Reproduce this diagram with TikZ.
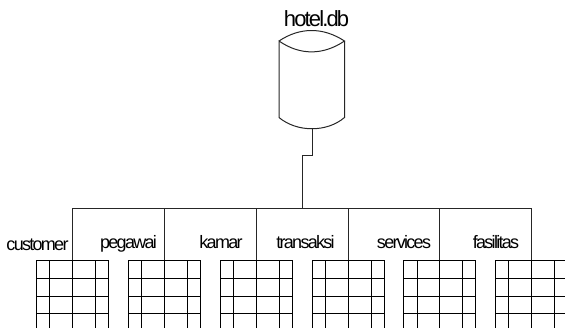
\documentclass[tikz,border=0pt]{standalone}
\usepackage{fontspec}
\setmainfont{Liberation Sans}
\newfontfamily\tightlarge[LetterSpace=-8.5]{Liberation Sans}
\newfontfamily\tightsmall[LetterSpace=-9.5]{Liberation Sans}
\tikzset{
  wire/.style={line width=1pt,black!85},
  gridline/.style={line width=1pt,black},
  tablelabel/.style={inner sep=0pt,font=\tightsmall\fontsize{18}{18}\selectfont,anchor=base},
  dblabel/.style={inner sep=0pt,font=\tightlarge\fontsize{22}{22}\selectfont,anchor=base}
}
\begin{document}
\begin{tikzpicture}[x=1pt,y=-1pt]
\useasboundingbox (0,0) rectangle (565,327);
\clip (0,0) rectangle (565,327);
% database
\coordinate (cylTL) at (279,41);
\coordinate (cylTR) at (344.5,41);
\coordinate (cylBL) at (279,117.5);
\coordinate (cylBR) at (344.5,117.5);
\coordinate (cylB) at (312,129);
\node[dblabel] (db) at (316.5,26.5) {hotel.db};
\draw[wire] (cylTL) .. controls (300,27) and (323,27) .. (cylTR)
  .. controls (323,55.5) and (300,55.5) .. (cylTL) -- (cylBL)
  .. controls (297,132.5) and (327,132.5) .. (cylBR) -- (cylTR);
% trunk
\coordinate (jogR) at (312,155);
\coordinate (jogL) at (302,155);
\coordinate (trunk) at (302,208);
\draw[wire] (cylB) -- (jogR) -- (jogL) -- (trunk);
% bus
\coordinate (busL) at (72,208);
\coordinate (busR) at (531,208);
\draw[wire] (busL) -- (busR);
% tables
\foreach \name/\cx/\lx/\ly/\txt in {
  a/72/37.5/250.5/customer,
  b/164/128.5/248.5/pegawai,
  c/256/221/248.5/kamar,
  d/348/305.5/248.5/transaksi,
  e/439.5/404/248.5/services,
  f/531/496/248.5/fasilitas}{
  \coordinate (top\name) at (\cx,208);
  \coordinate (tab\name) at (\cx,260.7);
  \draw[wire] (top\name) -- (tab\name);
  \draw[gridline] (\cx-36,330) -- (\cx-36,260.7) -- (\cx+36,260.7) -- (\cx+36,330);
  \foreach \dx in {-22.5,0,23}{\draw[gridline] (\cx+\dx,260.7) -- (\cx+\dx,330);}
  \foreach \yy in {278,296,313}{\draw[gridline] (\cx-36,\yy) -- (\cx+36,\yy);}
  \node[tablelabel] (lab\name) at (\lx,\ly) {\txt};
}
\end{tikzpicture}
\end{document}
